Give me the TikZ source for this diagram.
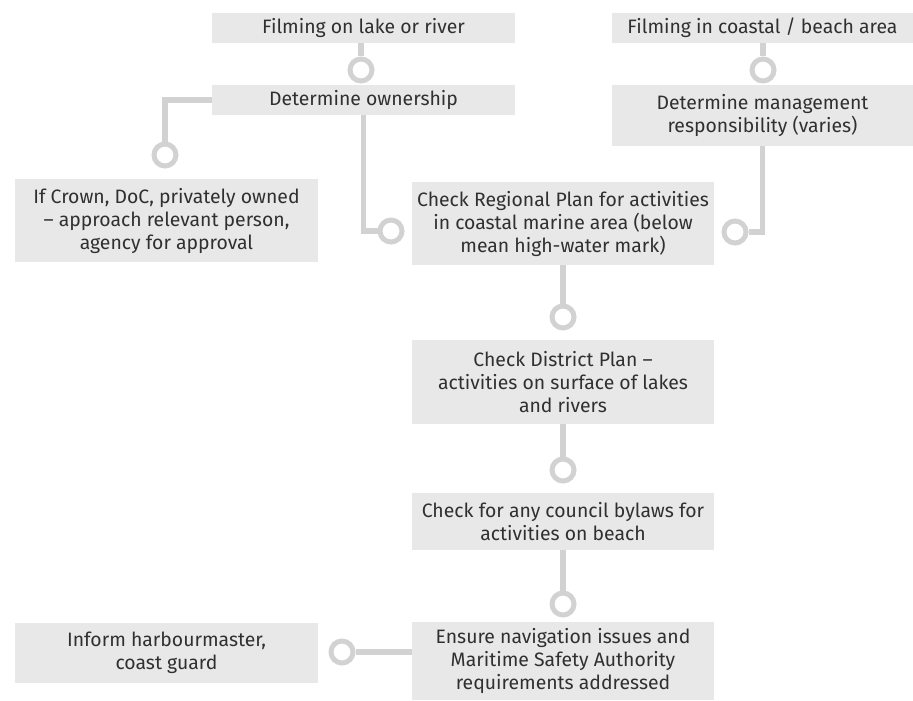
\documentclass[tikz,border=0pt]{standalone}
\usepackage{fontspec}
\setmainfont{Fira Sans}
\usepackage{xcolor}
\usetikzlibrary{positioning}
\definecolor{boxfill}{HTML}{E8E8E8}
\definecolor{linkgray}{HTML}{D2D2D2}
\definecolor{textgray}{HTML}{303030}

\tikzset{
  stepbox/.style={fill=boxfill, text=textgray, align=center, inner sep=0pt,
    font=\fontsize{19.4}{23}\selectfont},
  knob/.style={circle, draw=linkgray, line width=5pt, fill=white,
    minimum size=22pt, inner sep=0pt},
  link/.style={draw=linkgray, line width=5.5pt}
}

\begin{document}
\begin{tikzpicture}[x=1pt, y=-1pt]
  \useasboundingbox (0,0) rectangle (913,701);
  % Boxes
  \node[stepbox, minimum width=303pt, minimum height=30pt] (lake) at (363.5,28) {Filming on lake or river};
  \node[stepbox, minimum width=303pt, minimum height=30pt] (own) at (363.5,100) {Determine ownership};
  \node[stepbox, minimum width=301pt, minimum height=30pt] (coast) at (762.5,28) {Filming in coastal / beach area};
  \node[stepbox, minimum width=301pt, minimum height=61pt] (mgmt) at (762.5,115.5) {Determine management\\responsibility (varies)};
  \node[stepbox, minimum width=303pt, minimum height=83pt] (crown) at (166.5,220.5) {If Crown, DoC, privately owned\\-- approach relevant person,\\agency for approval};
  \node[stepbox, minimum width=302pt, minimum height=83pt] (regional) at (563,223.5) {Check Regional Plan for activities\\in coastal marine area (below\\mean high-water mark)};
  \node[stepbox, minimum width=302pt, minimum height=84pt] (district) at (563,382) {Check District Plan --\\activities on surface of lakes\\and rivers};
  \node[stepbox, minimum width=302pt, minimum height=57pt] (bylaws) at (563,521.5) {Check for any council bylaws for\\activities on beach};
  \node[stepbox, minimum width=302pt, minimum height=78pt] (ensure) at (563,661) {Ensure navigation issues and\\Maritime Safety Authority\\requirements addressed};
  \node[stepbox, minimum width=303pt, minimum height=60pt] (inform) at (166.5,653) {Inform harbourmaster,\\coast guard};
  % Knobs
  \node[knob] (k1) at (361,70) {};
  \node[knob] (k2) at (763,70) {};
  \node[knob] (k3) at (165,155) {};
  \node[knob] (k4) at (391,231) {};
  \node[knob] (k5) at (735,232) {};
  \node[knob] (k6) at (563,317) {};
  \node[knob] (k7) at (563,470) {};
  \node[knob] (k8) at (563,604) {};
  \node[knob] (k9) at (342,652) {};
  % Links
  \draw[link] (lake.south -| k1) -- (k1.north);
  \draw[link] (coast.south -| k2) -- (k2.north);
  \draw[link] (own.west) -| (k3.north);
  \draw[link] (own.south) |- (k4.west);
  \draw[link] (mgmt.south) |- (k5.east);
  \draw[link] (regional.south -| k6) -- (k6.north);
  \draw[link] (district.south -| k7) -- (k7.north);
  \draw[link] (bylaws.south -| k8) -- (k8.north);
  \draw[link] (k9.east) -- (k9.east -| ensure.west);
\end{tikzpicture}
\end{document}
